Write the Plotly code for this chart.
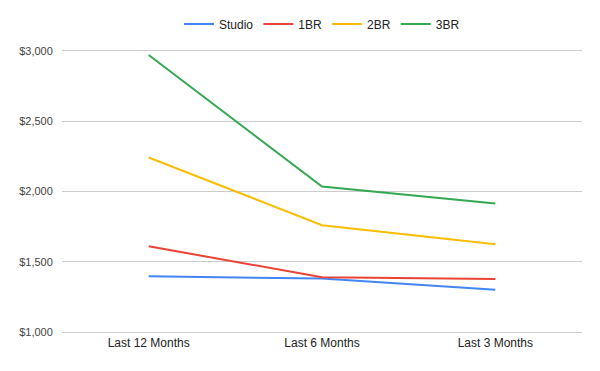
import plotly.graph_objects as go

categories = ["Last 12 Months", "Last 6 Months", "Last 3 Months"]
studio = [1396, 1380, 1300]
one_br = [1610, 1390, 1377]
two_br = [2242, 1760, 1625]
three_br = [2972, 2035, 1915]
y_ticks = [1000, 1500, 2000, 2500, 3000]
y_tick_labels = ["$1,000", "$1,500", "$2,000", "$2,500", "$3,000"]

series = [
    ("Studio", studio, "#4285F4"),
    ("1BR", one_br, "#EA4335"),
    ("2BR", two_br, "#FBBC04"),
    ("3BR", three_br, "#34A853"),
]

# page body has an 8px default margin; size the figure so it fits the window
W, H = 584, 355

fig = go.Figure()
for name, vals, color in series:
    fig.add_trace(go.Scatter(x=categories, y=vals, name=name, mode="lines",
                             line=dict(color=color, width=2)))

fig.update_layout(
    width=W, height=H,
    margin=dict(l=54, r=10, t=43, b=31, autoexpand=False),
    paper_bgcolor="white", plot_bgcolor="white",
    font=dict(family="Liberation Sans, Arial, sans-serif", size=11, color="#222222"),
    showlegend=True,
    legend=dict(orientation="h", x=0.5, xanchor="center", yref="container",
                y=1 - 16 / H, yanchor="middle",
                font=dict(size=12, color="#222222"), itemwidth=30,
                traceorder="normal"),
    xaxis=dict(showgrid=False, zeroline=False, showline=True, linecolor="#cccccc",
               linewidth=1, mirror=True, ticks="", range=[-0.5, 2.5],
               tickfont=dict(size=12, color="#222222")),
    yaxis=dict(range=[1000, 3000], tickvals=y_ticks, ticktext=y_tick_labels,
               showgrid=True, gridcolor="#cccccc", gridwidth=1, zeroline=False,
               showline=False, ticks="outside", ticklen=6, tickcolor="white",
               tickfont=dict(size=11, color="#444444")),
)

fig.write_html("out.html")
